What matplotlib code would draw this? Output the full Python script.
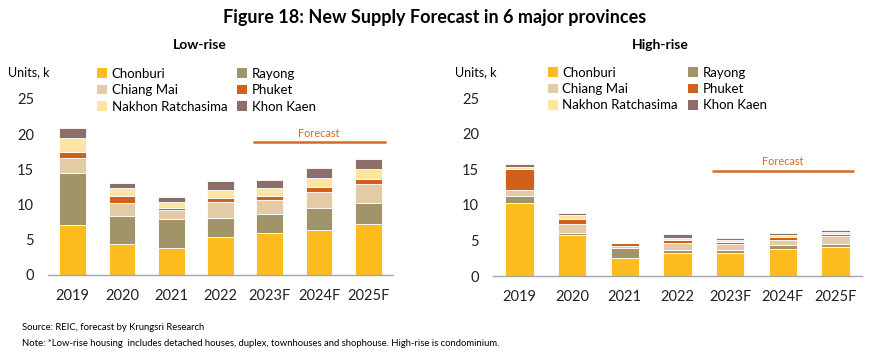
import numpy as np
import matplotlib
matplotlib.use("Agg")
import matplotlib.pyplot as plt
from matplotlib.patches import Patch

plt.rcParams["font.family"] = ["Lato", "DejaVu Sans"]

# ---------------------------------------------------------------------------
# data (thousand units)
# ---------------------------------------------------------------------------
years = ["2019", "2020", "2021", "2022", "2023F", "2024F", "2025F"]
provinces = ["Chonburi", "Rayong", "Chiang Mai", "Phuket",
             "Nakhon Ratchasima", "Khon Kaen"]
colors = ["#FDBC1E", "#A09468", "#E2CBA6", "#D0601A", "#FFE4A3", "#8C6F68"]

low_chonburi = [7.1, 4.36, 3.8, 5.41, 5.98, 6.45, 7.21]
low_rayong = [7.45, 4.08, 4.12, 2.75, 2.75, 3.09, 3.08]
low_chiangmai = [2.05, 1.8, 1.33, 2.18, 1.99, 2.27, 2.61]
low_phuket = [0.9, 1.0, 0.33, 0.57, 0.52, 0.67, 0.67]
low_nakhon = [1.95, 1.1, 0.86, 1.19, 1.09, 1.32, 1.47]
low_khonkaen = [1.5, 0.76, 0.71, 1.23, 1.19, 1.38, 1.42]

high_chonburi = [10.2, 5.69, 2.49, 3.24, 3.24, 3.76, 4.04]
high_rayong = [1.08, 0.37, 1.5, 0.47, 0.47, 0.56, 0.47]
high_chiangmai = [0.8, 1.18, 0.19, 0.94, 0.8, 0.8, 1.04]
high_phuket = [3.0, 0.7, 0.42, 0.38, 0.28, 0.38, 0.32]
high_nakhon = [0.24, 0.56, 0.05, 0.28, 0.24, 0.28, 0.33]
high_khonkaen = [0.38, 0.29, 0.05, 0.52, 0.28, 0.24, 0.28]

low = [low_chonburi, low_rayong, low_chiangmai, low_phuket, low_nakhon, low_khonkaen]
high = [high_chonburi, high_rayong, high_chiangmai, high_phuket, high_nakhon, high_khonkaen]

FC = "#D46A2A"

# ---------------------------------------------------------------------------
# plot
# ---------------------------------------------------------------------------
fig = plt.figure(figsize=(8.7, 3.61), dpi=100)
ax_l = fig.add_axes([48 / 870, 1 - 275 / 361, 345 / 870, 176 / 361])
ax_r = fig.add_axes([493 / 870, 1 - 276 / 361, 369 / 870, 178 / 361])

x = np.arange(len(years))
# legend reads row-wise in the original, matplotlib fills column-wise
leg_order = [0, 2, 4, 1, 3, 5]


def stacked(ax, series, title, title_x, fc_y, leg_x):
    bottom = np.zeros(len(years))
    for vals, c in zip(series, colors):
        ax.bar(x, vals, width=0.54, bottom=bottom, color=c,
               edgecolor="white", linewidth=0.6)
        bottom += np.array(vals)
    ax.set_ylim(0, 25)
    ax.set_xlim(-0.5, len(years) - 0.5)
    ax.set_yticks(range(0, 26, 5))
    ax.set_xticks(x, years)
    ax.tick_params(length=0, labelsize=10.5, colors="#222222")
    ax.tick_params(axis="x", pad=10)
    ax.tick_params(axis="y", pad=10)
    for s in ["top", "right", "left"]:
        ax.spines[s].set_visible(False)
    ax.spines["bottom"].set_color("#A6A6A6")
    ax.spines["bottom"].set_linewidth(1.0)
    # forecast bracket
    ax.plot([3.65, 6.35], [fc_y, fc_y], color=FC, lw=1.8, solid_capstyle="butt")
    ax.text(5.0, fc_y + 0.45, "Forecast", color=FC, ha="center",
            va="bottom", fontsize=7.8)
    fig.text(title_x, 1 - 45 / 361, title, ha="center", va="center",
             fontsize=10, fontweight="bold")
    handles = [Patch(facecolor=colors[i], edgecolor="none") for i in leg_order]
    labels = [provinces[i] for i in leg_order]
    ax.legend(handles, labels, ncol=2, frameon=False, fontsize=9.5,
              loc="center left", bbox_to_anchor=(leg_x, 1.05),
              handlelength=0.75, handleheight=0.75, handletextpad=0.35,
              columnspacing=0.75, labelspacing=0.33, borderaxespad=0,
              borderpad=0)


stacked(ax_l, low, "Low-rise", 200 / 870, 18.9, 0.142)
stacked(ax_r, high, "High-rise", 660 / 870, 14.8, 0.149)

fig.text(8 / 870, 1 - 72 / 361, "Units, k", fontsize=9, va="center")
fig.text(455 / 870, 1 - 72 / 361, "Units, k", fontsize=9, va="center")

fig.text(0.5, 1 - 17 / 361, "Figure 18: New Supply Forecast in 6 major provinces",
         ha="center", va="center", fontsize=13, fontweight="bold")
fig.text(22 / 870, 1 - 328 / 361, "Source: REIC, forecast by Krungsri Research",
         fontsize=6.8, va="center")
fig.text(22 / 870, 1 - 343 / 361,
         "Note: *Low-rise housing  includes detached houses, duplex, townhouses "
         "and shophouse. High-rise is condominium.", fontsize=6.8, va="center")

fig.savefig("out.png", dpi=100, facecolor="white")
plt.close(fig)
